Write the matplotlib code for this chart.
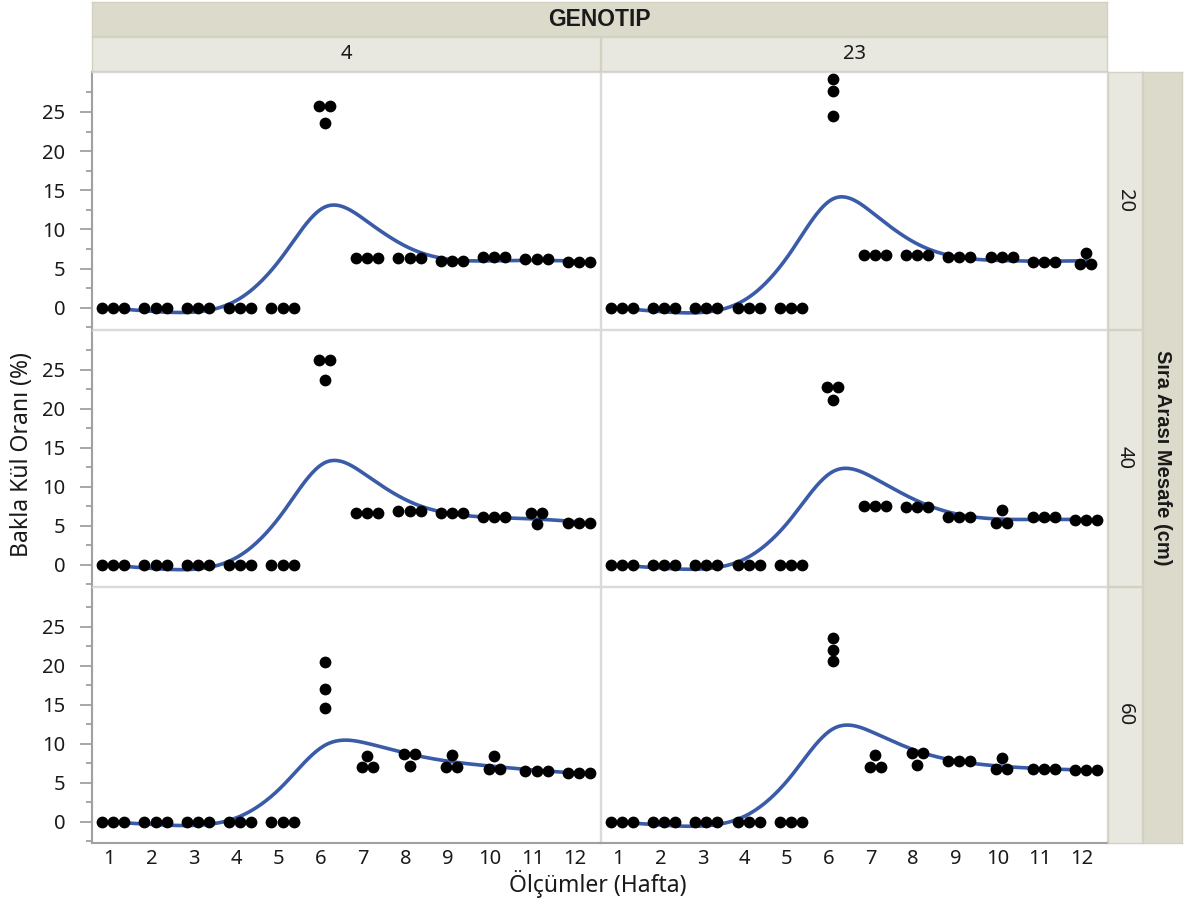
import numpy as np
import matplotlib
matplotlib.use("Agg")
import matplotlib.pyplot as plt
from matplotlib.transforms import ScaledTranslation

plt.rcParams['font.family'] = ['Noto Sans', 'DejaVu Sans']

weeks = list(range(1, 13))
genotypes = ['4', '23']
spacings = ['20', '40', '60']

# three replicates per week
g4_s20 = [[0, 0, 0], [0, 0, 0], [0, 0, 0], [0, 0, 0], [0, 0, 0],
          [25.8, 25.8, 23.6], [6.4, 6.4, 6.4], [6.4, 6.4, 6.4], [6.0, 6.0, 6.0],
          [6.5, 6.5, 6.5], [6.2, 6.2, 6.2], [5.9, 5.9, 5.9]]
g23_s20 = [[0, 0, 0], [0, 0, 0], [0, 0, 0], [0, 0, 0], [0, 0, 0],
           [29.2, 27.7, 24.5], [6.8, 6.8, 6.8], [6.8, 6.8, 6.8], [6.5, 6.5, 6.5],
           [6.5, 6.5, 6.5], [5.9, 5.9, 5.9], [7.0, 5.6, 5.6]]
g4_s40 = [[0, 0, 0], [0, 0, 0], [0, 0, 0], [0, 0, 0], [0, 0, 0],
          [26.2, 26.2, 23.7], [6.7, 6.7, 6.7], [6.9, 6.9, 6.9], [6.7, 6.7, 6.7],
          [6.2, 6.2, 6.2], [6.7, 6.7, 5.2], [5.4, 5.4, 5.4]]
g23_s40 = [[0, 0, 0], [0, 0, 0], [0, 0, 0], [0, 0, 0], [0, 0, 0],
           [22.8, 22.8, 21.1], [7.5, 7.5, 7.5], [7.4, 7.4, 7.4], [6.2, 6.2, 6.2],
           [7.0, 5.4, 5.4], [6.1, 6.1, 6.1], [5.8, 5.8, 5.8]]
g4_s60 = [[0, 0, 0], [0, 0, 0], [0, 0, 0], [0, 0, 0], [0, 0, 0],
          [20.5, 17.0, 14.6], [8.5, 7.0, 7.0], [8.7, 8.7, 7.2], [8.6, 7.1, 7.1],
          [8.4, 6.8, 6.8], [6.5, 6.5, 6.5], [6.3, 6.3, 6.3]]
g23_s60 = [[0, 0, 0], [0, 0, 0], [0, 0, 0], [0, 0, 0], [0, 0, 0],
           [23.6, 22.0, 20.6], [8.6, 7.1, 7.1], [8.8, 8.8, 7.3], [7.8, 7.8, 7.8],
           [8.2, 6.8, 6.8], [6.8, 6.8, 6.8], [6.7, 6.7, 6.7]]

panels = {('20', '4'): g4_s20, ('20', '23'): g23_s20,
          ('40', '4'): g4_s40, ('40', '23'): g23_s40,
          ('60', '4'): g4_s60, ('60', '23'): g23_s60}

LAM = 1.2  # smoother stiffness


def smooth_spline(x, y, lam, grid):
    # penalised cubic smoothing spline (Reinsch), weights = replicate counts
    t = np.unique(x)
    n = len(t)
    w = np.array([np.sum(x == v) for v in t], float)
    yb = np.array([y[x == v].mean() for v in t])
    h = np.diff(t)
    Q = np.zeros((n, n - 2))
    R = np.zeros((n - 2, n - 2))
    for j in range(1, n - 1):
        Q[j - 1, j - 1] = 1 / h[j - 1]
        Q[j, j - 1] = -1 / h[j - 1] - 1 / h[j]
        Q[j + 1, j - 1] = 1 / h[j]
        R[j - 1, j - 1] = (h[j - 1] + h[j]) / 3
        if j < n - 2:
            R[j - 1, j] = R[j, j - 1] = h[j] / 6
    K = Q @ np.linalg.solve(R, Q.T)
    g = np.linalg.solve(np.diag(w) + lam * K, w * yb)
    gam = np.zeros(n)
    gam[1:-1] = np.linalg.solve(R, Q.T @ g)
    i = np.clip(np.searchsorted(t, grid) - 1, 0, n - 2)
    a = grid - t[i]
    b = t[i + 1] - grid
    hi = h[i]
    return ((a * g[i + 1] + b * g[i]) / hi
            - a * b / 6 * ((1 + a / hi) * gam[i + 1] + (1 + b / hi) * gam[i]))


def jitter(vals, d=0.26, tol=0.6):
    # spread equal values side by side, like the original point layout
    order = np.argsort(vals)[::-1]
    offs = np.zeros(len(vals))
    rows, cur = [], [order[0]]
    for k in order[1:]:
        if abs(vals[cur[-1]] - vals[k]) < tol:
            cur.append(k)
        else:
            rows.append(cur)
            cur = [k]
    rows.append(cur)
    for r in rows:
        for m, k in enumerate(r):
            offs[k] = (m - (len(r) - 1) / 2) * d
    return offs


W, H = 1184, 909
fig = plt.figure(figsize=(W / 100, H / 100), dpi=100)


def box(x0, y0, x1, y1):
    return [x0 / W, 1 - y1 / H, (x1 - x0) / W, (y1 - y0) / H]


cols = [(92, 600), (601, 1107)]
rows = [(72, 329), (330, 586), (587, 843)]
DARK = '#dcdacb'
LIGHT = '#e8e8e0'
BLUE = '#3a5ba8'
TXT = '#1a1a1a'
FS = 14.5

shift = ScaledTranslation(-0.04, 0, fig.dpi_scale_trans)

for ri, sp in enumerate(spacings):
    for ci, gt in enumerate(genotypes):
        ax = fig.add_axes(box(cols[ci][0], rows[ri][0], cols[ci][1], rows[ri][1]))
        data = panels[(sp, gt)]
        xs, ys = [], []
        for wk, vals in zip(weeks, data):
            vals = np.array(vals, float)
            xs.extend(wk + jitter(vals))
            ys.extend(vals)
        ax.scatter(xs, ys, s=72, color='black', zorder=3, linewidths=0)
        xr = np.repeat(weeks, 3).astype(float)
        yr = np.array(data, float).ravel()
        grid = np.linspace(1, 12, 400)
        ax.plot(grid, smooth_spline(xr, yr, LAM, grid), color=BLUE, lw=2.6, zorder=2)
        ax.set_xlim(0.5, 12.5)
        ax.set_ylim(-2.7, 30.1)
        for s in ax.spines.values():
            s.set_color('#dadada')
            s.set_linewidth(1)
        ax.set_yticks(range(0, 30, 5))
        ax.set_yticks(np.arange(-2.5, 30, 5), minor=True)
        ax.set_xticks(weeks)
        ax.tick_params(axis='x', length=0, labelsize=FS, colors=TXT, pad=4)
        ax.tick_params(axis='y', which='major', length=9, width=1.3,
                       color='#a0a0a0', labelsize=FS, labelcolor=TXT, pad=10)
        ax.tick_params(axis='y', which='minor', length=4.3, width=1.3, color='#a0a0a0')
        if ci == 0:
            ax.spines['left'].set_color('#a0a0a0')
            ax.spines['left'].set_linewidth(1.5)
        else:
            ax.tick_params(axis='y', which='both', left=False, labelleft=False)
        if ri == 2:
            ax.spines['bottom'].set_color('#a0a0a0')
            ax.spines['bottom'].set_linewidth(1.5)
            for lab in ax.get_xticklabels():
                lab.set_transform(lab.get_transform() + shift)
        else:
            ax.tick_params(axis='x', labelbottom=False)


def strip(x0, y0, x1, y1, color, text, rot=0, bold=False, size=FS):
    a = fig.add_axes(box(x0, y0, x1, y1))
    a.set_facecolor(color)
    a.set_xticks([])
    a.set_yticks([])
    for s in a.spines.values():
        s.set_color('#d2d1c2')
        s.set_linewidth(1)
    kw = {}
    if bold:
        kw = dict(fontweight='bold', family=['Liberation Sans', 'DejaVu Sans'])
    a.text(0.5, 0.5, text, ha='center', va='center', rotation=rot,
           fontsize=size, color=TXT, transform=a.transAxes, **kw)


strip(92, 2, 1107, 36, DARK, 'GENOTIP', bold=True, size=16.5)
for ci, gt in enumerate(genotypes):
    strip(cols[ci][0], 37, cols[ci][1], 71, LIGHT, gt)
for ri, sp in enumerate(spacings):
    strip(1108, rows[ri][0], 1142, rows[ri][1], LIGHT, sp, rot=-90)
strip(1143, 72, 1182, 843, DARK, 'Sıra Arası Mesafe (cm)', rot=-90, bold=True, size=14.5)

fig.text(22 / W, 1 - 455 / H, 'Bakla Kül Oranı (%)', rotation=90,
         ha='center', va='center', fontsize=16.5, color=TXT)
fig.text(598 / W, 1 - 884 / H, 'Ölçümler (Hafta)', ha='center', va='center',
         fontsize=16.5, color=TXT)

fig.savefig('out.png', dpi=100)
